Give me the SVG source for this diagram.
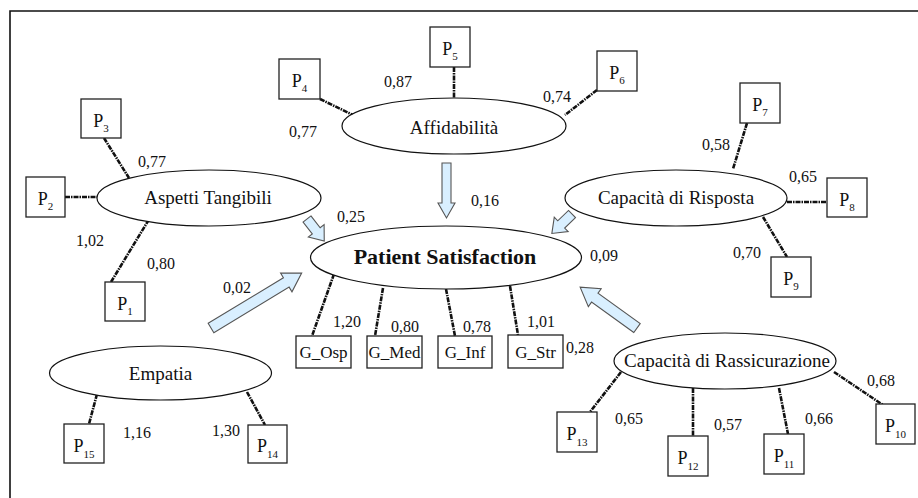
<svg xmlns="http://www.w3.org/2000/svg" width="918" height="498" viewBox="0 0 918 498" font-family="'Liberation Serif', 'DejaVu Serif', serif">
  <style>
    text { font-family: 'Liberation Serif', 'DejaVu Serif', serif; fill: #111; }
    .ell { fill: #fff; stroke: #111; stroke-width: 1.2; }
    .box { fill: #fff; stroke: #222; stroke-width: 1.3; }
    .ld { fill: none; stroke: #111; stroke-width: 2.6; stroke-dasharray: 5 1 1.5 1; }
    .arr { fill: #d9efff; stroke: #555; stroke-width: 1.1; stroke-linejoin: miter; }
    .lbl { font-size: 19px; text-anchor: middle; }
    .ps { font-size: 22px; font-weight: bold; text-anchor: middle; }
    .g { font-size: 17px; text-anchor: middle; }
    .p { font-size: 18px; text-anchor: middle; }
    .sub { font-size: 11px; }
    .num { font-size: 16px; }
  </style>
  <defs>
    <!-- block arrow pointing along +x, tail at origin -->
    <polygon id="arrS" points="0,-5 15,-5 15,-10 28,0 15,10 15,5 0,5"/>
    <polygon id="arrL" points="0,-5.5 52,-5.5 52,-11 70,0 52,11 52,5.5 0,5.5"/>
    <polygon id="arrXL" points="0,-5.5 88,-5.5 88,-11 106,0 88,11 88,5.5 0,5.5"/>
  </defs>

  <!-- frame -->
  <path d="M10,498 V11 H918" fill="none" stroke="#111" stroke-width="1.6"/>

  <g id="connectors">
    <!-- measurement links -->
    <line class="ld" x1="320" y1="99" x2="353" y2="115"/>
    <line class="ld" x1="454" y1="67" x2="454" y2="99"/>
    <line class="ld" x1="597" y1="90" x2="565" y2="115"/>
    <line class="ld" x1="104" y1="138" x2="129" y2="178"/>
    <line class="ld" x1="65" y1="197" x2="97" y2="197"/>
    <line class="ld" x1="111" y1="282" x2="148" y2="221"/>
    <line class="ld" x1="747" y1="123" x2="733" y2="169"/>
    <line class="ld" x1="787" y1="202" x2="827" y2="202"/>
    <line class="ld" x1="763" y1="217" x2="787" y2="257"/>
    <line class="ld" x1="334" y1="274" x2="312" y2="336"/>
    <line class="ld" x1="383" y1="288" x2="375" y2="336"/>
    <line class="ld" x1="446" y1="289" x2="455" y2="336"/>
    <line class="ld" x1="510" y1="286" x2="518" y2="335"/>
    <line class="ld" x1="97" y1="394" x2="89" y2="424"/>
    <line class="ld" x1="247" y1="392" x2="265" y2="425"/>
    <line class="ld" x1="621" y1="372" x2="590" y2="412"/>
    <line class="ld" x1="693" y1="388" x2="693" y2="436"/>
    <line class="ld" x1="779" y1="388" x2="788" y2="434"/>
    <line class="ld" x1="834" y1="372" x2="883" y2="405"/>

    <!-- structural paths -->
    <polygon class="arr" points="442,163 451,163 451,203 455,203 446.5,218 438,203 442,203"/>
    <use href="#arrS" class="arr" transform="translate(307,219) rotate(52)"/>
    <use href="#arrS" class="arr" transform="translate(572,214) rotate(136)"/>
    <use href="#arrXL" class="arr" transform="translate(211,328) rotate(-31.2)"/>
    <use href="#arrL" class="arr" transform="translate(637,328) rotate(-144.3)"/>
  </g>

  <g id="loadings">
    <text class="num" x="289" y="137">0,77</text>
    <text class="num" x="138" y="167">0,77</text>
    <text class="num" x="384" y="87">0,87</text>
    <text class="num" x="543" y="102">0,74</text>
    <text class="num" x="702" y="150">0,58</text>
    <text class="num" x="789" y="182">0,65</text>
    <text class="num" x="733" y="258">0,70</text>
    <text class="num" x="590" y="261">0,09</text>
    <text class="num" x="76" y="246">1,02</text>
    <text class="num" x="147" y="269">0,80</text>
    <text class="num" x="337" y="222">0,25</text>
    <text class="num" x="471" y="206">0,16</text>
    <text class="num" x="223" y="293">0,02</text>
    <text class="num" x="333" y="327">1,20</text>
    <text class="num" x="391" y="332">0,80</text>
    <text class="num" x="463" y="332">0,78</text>
    <text class="num" x="527" y="327">1,01</text>
    <text class="num" x="566" y="353">0,28</text>
    <text class="num" x="123" y="438">1,16</text>
    <text class="num" x="212" y="436">1,30</text>
    <text class="num" x="615" y="424">0,65</text>
    <text class="num" x="714" y="430">0,57</text>
    <text class="num" x="805" y="424">0,66</text>
    <text class="num" x="867" y="386">0,68</text>
  </g>

  <!-- latent constructs -->
  <g id="affidabilita">
    <ellipse class="ell" cx="454" cy="126" rx="112" ry="28"/>
    <text class="lbl" x="454" y="134">Affidabilità</text>
  </g>
  <g id="aspetti-tangibili">
    <ellipse class="ell" cx="209" cy="198" rx="112" ry="28"/>
    <text class="lbl" x="208" y="204">Aspetti Tangibili</text>
  </g>
  <g id="capacita-risposta">
    <ellipse class="ell" cx="676" cy="198" rx="111" ry="28"/>
    <text class="lbl" x="676" y="204">Capacità di Risposta</text>
  </g>
  <g id="patient-satisfaction">
    <ellipse class="ell" cx="446" cy="257.5" rx="135.5" ry="31.5"/>
    <text class="ps" x="445" y="264">Patient Satisfaction</text>
  </g>
  <g id="empatia">
    <ellipse class="ell" cx="160.5" cy="373" rx="111" ry="27"/>
    <text class="lbl" x="160.5" y="380">Empatia</text>
  </g>
  <g id="capacita-rassicurazione">
    <ellipse class="ell" cx="725" cy="361" rx="111" ry="28"/>
    <text class="lbl" x="727" y="367">Capacità di Rassicurazione</text>
  </g>

  <!-- observed indicators -->
  <g id="p1"><rect class="box" x="105" y="282" width="40" height="39"/><text class="p" x="125" y="310">P<tspan class="sub" dy="5">1</tspan></text></g>
  <g id="p2"><rect class="box" x="26" y="177" width="39" height="40"/><text class="p" x="45.5" y="205">P<tspan class="sub" dy="5">2</tspan></text></g>
  <g id="p3"><rect class="box" x="81" y="99" width="40" height="39"/><text class="p" x="101" y="127">P<tspan class="sub" dy="5">3</tspan></text></g>
  <g id="p4"><rect class="box" x="279" y="59" width="41" height="40"/><text class="p" x="299.5" y="87">P<tspan class="sub" dy="5">4</tspan></text></g>
  <g id="p5"><rect class="box" x="430" y="27" width="40" height="40"/><text class="p" x="450" y="55">P<tspan class="sub" dy="5">5</tspan></text></g>
  <g id="p6"><rect class="box" x="597" y="51" width="40" height="40"/><text class="p" x="617" y="79">P<tspan class="sub" dy="5">6</tspan></text></g>
  <g id="p7"><rect class="box" x="740" y="83" width="40" height="40"/><text class="p" x="760" y="111">P<tspan class="sub" dy="5">7</tspan></text></g>
  <g id="p8"><rect class="box" x="827" y="178" width="40" height="39"/><text class="p" x="847" y="206">P<tspan class="sub" dy="5">8</tspan></text></g>
  <g id="p9"><rect class="box" x="771" y="257" width="40" height="40"/><text class="p" x="791" y="285">P<tspan class="sub" dy="5">9</tspan></text></g>
  <g id="p10"><rect class="box" x="876" y="404" width="39" height="40"/><text class="p" x="895.5" y="432">P<tspan class="sub" dy="6">10</tspan></text></g>
  <g id="p11"><rect class="box" x="764" y="434" width="40" height="40"/><text class="p" x="784" y="462">P<tspan class="sub" dy="6">11</tspan></text></g>
  <g id="p12"><rect class="box" x="668" y="436" width="40" height="40"/><text class="p" x="688" y="464">P<tspan class="sub" dy="6">12</tspan></text></g>
  <g id="p13"><rect class="box" x="557" y="412" width="40" height="40"/><text class="p" x="577" y="440">P<tspan class="sub" dy="6">13</tspan></text></g>
  <g id="p14"><rect class="box" x="248" y="425" width="39" height="38"/><text class="p" x="267.5" y="452">P<tspan class="sub" dy="6">14</tspan></text></g>
  <g id="p15"><rect class="box" x="64" y="424" width="40" height="39"/><text class="p" x="84" y="452">P<tspan class="sub" dy="6">15</tspan></text></g>

  <g id="g-osp"><rect class="box" x="296" y="336" width="55" height="32"/><text class="g" x="323.5" y="358">G_Osp</text></g>
  <g id="g-med"><rect class="box" x="367" y="336" width="55" height="32"/><text class="g" x="394.5" y="358">G_Med</text></g>
  <g id="g-inf"><rect class="box" x="438" y="336" width="54" height="32"/><text class="g" x="465" y="358">G_Inf</text></g>
  <g id="g-str"><rect class="box" x="508" y="335" width="55" height="33"/><text class="g" x="535.5" y="358">G_Str</text></g>
</svg>
